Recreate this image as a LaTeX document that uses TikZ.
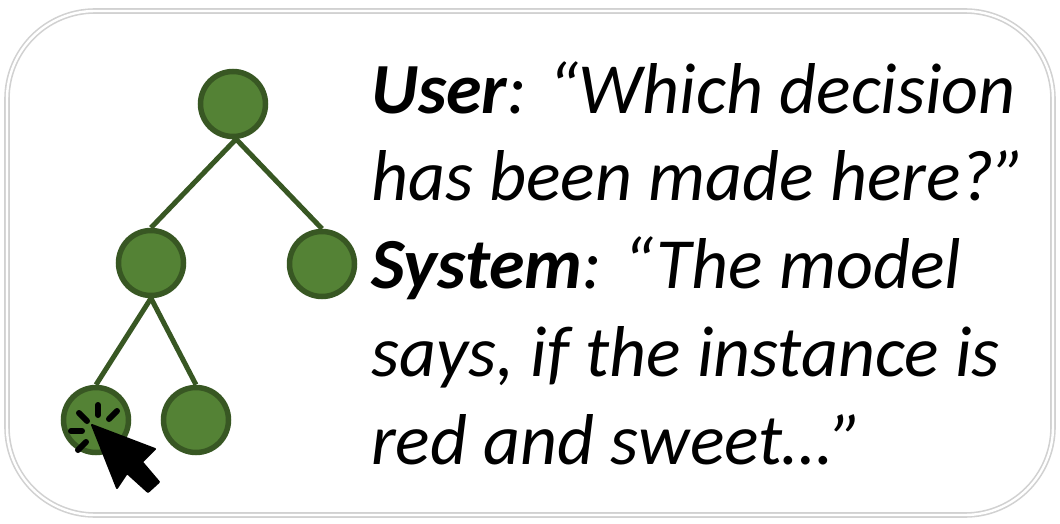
\documentclass[tikz,border=0pt]{standalone}
\usepackage{fontspec}
\setmainfont{Carlito}
\begin{document}
\begin{tikzpicture}[x=1pt,y=-1pt,
treenode/.style={circle, draw=treeline, fill=treefill, line width=5.5pt, minimum size=65pt, inner sep=0pt},
edge/.style={draw=treeline, line width=5pt},
ray/.style={line width=6pt, line cap=round}]
\definecolor{treefill}{HTML}{548235}
\definecolor{treeline}{HTML}{385723}
\useasboundingbox (0,0) rectangle (1060,524);
\draw[draw=black!18, line width=1.6pt, double=white, double distance=2.4pt, rounded corners=88pt] (7,11) rectangle (1053,515);
\node[treenode] (root) at (233, 104) {};
\node[treenode] (l) at (151, 263) {};
\node[treenode] (r) at (322, 264) {};
\node[treenode] (ll) at (96, 420) {};
\node[treenode] (lr) at (196, 420) {};
\foreach \x/\y in {root.-85/l.north, root.-85/r.north, l.south/ll.north, l.south/lr.north}
  \draw[edge] (\x) -- (\y);
\fill[black, draw=black, line width=2pt, line join=round] (92,425) -- (155,449) -- (142,462) -- (159,482) -- (148,492) -- (127,473) -- (117,488) -- cycle;
\foreach \a/\b/\c/\d in {98/405/98/415, 79/413/87/421, 117/411/109/419, 71/431/82/431, 86/442/78/450}
  \draw[ray] (\a,\b) -- (\c,\d);
\node[anchor=north west, align=left, inner sep=0pt, font=\fontsize{72}{87.8}\selectfont\itshape] (talk) at (371, 61) {\textbf{User}: “Which decision\\has been made here?”\\\textbf{System}: “The model\\says, if the instance is\\red and sweet…”};
\end{tikzpicture}
\end{document}
